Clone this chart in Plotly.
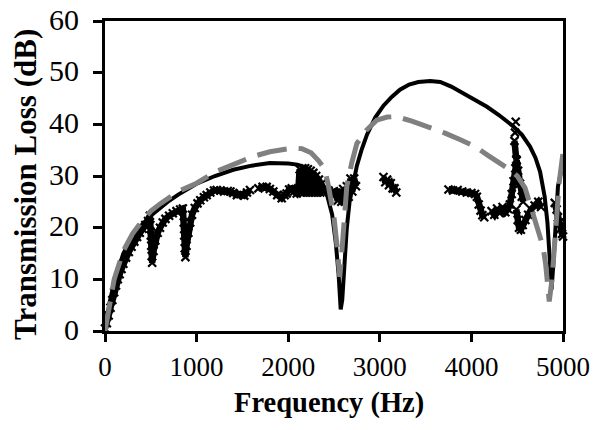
import plotly.graph_objects as go

# ---- Data ----
# Black solid curve
freq_solid = [0, 25, 50, 100, 150, 200, 300, 400, 500, 600, 700, 800, 900, 1000,
              1200, 1400, 1600, 1800, 2000, 2100, 2200, 2300, 2350, 2420, 2480,
              2520, 2550, 2573, 2590, 2610, 2640, 2670, 2710, 2750, 2800, 2860,
              2950, 3040, 3130, 3220, 3320, 3420, 3550, 3660, 3780, 3910, 4050,
              4170, 4300, 4450, 4550, 4640, 4700, 4750, 4800, 4830, 4855, 4875,
              4895, 4920, 4945, 4975, 5000]
tl_solid = [0, 3, 5.5, 9.5, 12.5, 15, 18.2, 20.5, 22.3, 23.8, 25.2, 26.4, 27.5, 28.5,
            30, 31.2, 32, 32.5, 32.4, 32.2, 31.6, 30.4, 29.2, 26.6, 22.5,
            17, 11, 4.2, 6, 12, 20, 25, 29, 32, 35, 38,
            41.3, 43.6, 45.3, 46.7, 47.7, 48.2, 48.4, 48.2, 47.3, 46, 44.5,
            43.4, 41.8, 39.7, 38, 35.7, 33.5, 30.8, 26, 21, 14, 8,
            13, 22, 28, 30.5, 34]

# Grey dashed curve
freq_dash = [0, 50, 100, 200, 300, 400, 500, 600, 700, 800, 1000, 1110, 1200, 1440,
             1600, 1800, 1965, 2050, 2150, 2250, 2330, 2400, 2440, 2500, 2530,
             2550, 2563, 2580, 2605, 2640, 2693, 2750, 2850, 2966, 3080, 3184,
             3350, 3530, 3712, 3880, 4040, 4180, 4300, 4420, 4500, 4585, 4650,
             4720, 4782, 4810, 4850, 4880, 4920, 4960, 5000]
tl_dash = [0, 5.5, 10, 15.5, 18.8, 21.2, 23.2, 24.6, 25.8, 27.0, 28.6, 29.9, 30.8, 32.5,
           33.7, 34.7, 35.3, 35.4, 35.3, 34.5, 33, 31.3, 28, 22, 17,
           12.5, 10.5, 14, 21, 28, 32.5, 36.3, 38.8, 40.8, 41.4, 41.5,
           40.6, 39.5, 38.3, 37, 35.7, 34, 32.7, 31.2, 30, 27.7, 24,
           19.5, 16.3, 13, 5.7, 10, 20, 29, 34.5]

# Measured data (x markers); None separates the clusters
freq_meas = [0, 20, 40, 60, 80, 100, 120, 140, 160, 180, 200, 230, 260, 290, 320, 350,
             380, 410, 440, 470, 490, 495, 500, 505, 510, 515, 530, 550, 575, 600,
             630, 660, 700, 740, 780, 820, 850, 860, 865, 870, 878, 890, 910, 930,
             950, 980, 1010, 1040, 1080, 1110, 1150, 1190, 1220, 1260, 1300, 1340,
             1370, 1400, 1440, 1480, 1520, 1550, 1583, None,
             1674, 1720, 1765, 1800, 1838, 1880, 1929, 1960, 1983, 2010, 2038, 2065,
             2093, 2110, 2125, 2140, 2155, 2170, 2185, 2200, 2215, 2230, 2245, 2260,
             2275, 2290, 2305, 2320, 2335, 2350, 2365, 2380, 2410, 2440, 2470, 2500,
             2520, 2540, 2560, 2580, 2600, 2620, 2640, 2660, 2680, 2700, 2720, 2740,
             None,
             3040, 3060, 3080, 3100, 3120, 3140, 3160, 3180, None,
             3750, 3800, 3850, 3900, 3950, 4000, 4040, 4060, 4080, 4100, 4120, 4140,
             None,
             4220, 4250, 4280, 4310, 4340, 4370, 4400, 4420, 4440, 4460, 4480, 4495,
             4510, 4530, 4550, 4565, None,
             4476, None, 4484, None, 4470, 4490, None,
             4490, 4505, 4520, 4540, 4560, 4590, 4620, 4650, 4690, 4730, 4760, None,
             4910, 4930, 4945, 4960, 4975, 4990, 5000]
tl_meas = [0.5, 1.5, 3, 4.5, 6, 7.5, 8.8, 10, 11, 12, 13, 14.2, 15.3, 16.3, 17.3, 18.2,
           19, 19.8, 20.5, 21.3, 22.3, 20.5, 18.5, 16.5, 14.5, 13.2, 15.5, 17.5, 19, 20,
           21, 21.7, 22.3, 22.8, 23.2, 23.5, 23.7, 21, 18.5, 16, 14.3, 16.5, 19, 21,
           22.5, 23.8, 24.7, 25.3, 25.9, 26.3, 26.8, 27.2, 27.3, 27.2, 27.0, 27.1,
           27.0, 26.7, 26.3, 26.5, 26.2, 26.8, 27.3, None,
           27.6, 27.9, 27.9, 27.5, 27, 26.3, 25.7, 26.3, 26.6, 27.4, 27.6, 27.0,
           26.6, 27.3, 31.3, 26.8, 31.5, 26.8, 31.5, 26.8, 31.3, 26.8, 31, 26.8,
           30.6, 26.8, 30, 26.8, 29.3, 26.8, 28.5, 26.8, 27.5, 27.2, 26.8, 26.5,
           26.8, 25.2, 27, 25, 27.5, 25, 28, 26, 29.5, 27, 29.5, 28,
           None,
           29.8, 28.8, 29.3, 28.2, 28.6, 27.6, 27.6, 26.8, None,
           27.4, 27.2, 27.3, 27.0, 26.8, 26.7, 26.5, 26, 24.5, 23.3, 22.4, 22,
           None,
           23.2, 22.5, 23.7, 22.8, 24, 23, 23.6, 24.5, 26.5, 29, 31.5, 33,
           31, 28.5, 26, 25, None,
           38.4, None, 40.5, None, 36.8, 33.2, None,
           23.5, 21.5, 20, 19.6, 20.5, 21.5, 22.5, 23.5, 24.3, 25, 24, None,
           24.8, 23.5, 22, 21, 19.8, 18.8, 18.3]

x_ticks = [0, 1000, 2000, 3000, 4000, 5000]
y_ticks = [0, 10, 20, 30, 40, 50, 60]
x_title = "Frequency (Hz)"
y_title = "Transmission Loss (dB)"

FONT = "Liberation Serif, Times New Roman, serif"

fig = go.Figure()

fig.add_trace(go.Scatter(
    x=freq_meas, y=tl_meas, mode="lines+markers",
    line=dict(color="black", width=6.5),
    marker=dict(symbol="x-thin", size=8, color="black",
                line=dict(color="black", width=2.2)),
    connectgaps=False, showlegend=False, cliponaxis=False))

fig.add_trace(go.Scatter(
    x=freq_solid, y=tl_solid, mode="lines",
    line=dict(color="black", width=4),
    showlegend=False))

fig.add_trace(go.Scatter(
    x=freq_dash, y=tl_dash, mode="lines",
    line=dict(color="#808080", width=5, dash="30px,12px"),
    showlegend=False))

axis_common = dict(
    showline=True, linecolor="black", linewidth=3, mirror=True,
    showgrid=False, zeroline=False, automargin=False,
    ticks="outside", tickcolor="black", tickwidth=2.5,
    ticklabeloverflow="allow",
)

fig.update_xaxes(range=[0, 5000], tickvals=x_ticks, ticklen=8,
                 ticklabelstandoff=2,
                 tickfont=dict(family=FONT, size=27, color="black"),
                 **axis_common)
fig.update_yaxes(range=[0, 60], tickvals=y_ticks, ticklen=9,
                 ticklabelstandoff=8, ticklabelshift=-2,
                 tickfont=dict(family=FONT, size=30, color="black"),
                 **axis_common)

fig.add_annotation(text="<b>" + x_title + "</b>", xref="paper", yref="paper",
                   x=0.5, y=0, xanchor="center", yanchor="middle",
                   xshift=-5, yshift=-72, showarrow=False,
                   font=dict(family=FONT, size=28.5, color="black"))
fig.add_annotation(text="<b>" + y_title + "</b>", xref="paper", yref="paper",
                   x=0, y=0.5, xanchor="center", yanchor="middle",
                   xshift=-80, yshift=-9, textangle=-90, showarrow=False,
                   font=dict(family=FONT, size=31, color="black"))

fig.update_layout(
    template="none",
    width=598, height=430,
    margin=dict(l=105, r=35, t=21, b=99),
    paper_bgcolor="white", plot_bgcolor="white",
)

# remove the default page margin so the figure fills the window exactly
fig.write_html("out.html",
               config={"displayModeBar": False},
               post_script="document.body.style.margin='0px';")
